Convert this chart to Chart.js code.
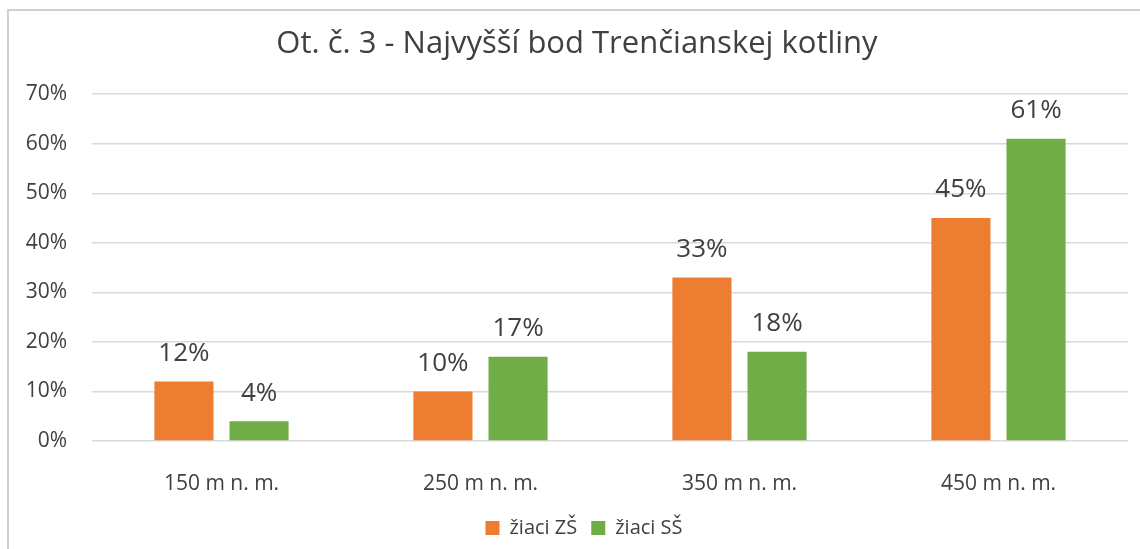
<!DOCTYPE html>
<html>
<head>
<meta charset="utf-8">
<script src="https://cdn.jsdelivr.net/npm/chart.js@4/dist/chart.umd.min.js"></script>
<style>
    html, body { margin: 0; padding: 0; background: #fff; overflow: hidden; }
    #frame {
        position: absolute; left: 7px; top: 9px; width: 1200px; height: 600px;
        border: 2px solid #d0d0d0;
    }
    #wrap { position: absolute; left: 0; top: 0; width: 1140px; height: 549px; }
</style>
</head>
<body>
<div id="frame"></div>
<div id="wrap"><canvas id="chart"></canvas></div>
<script>
    // Ot. č. 3 - answers per height option
    const categories = ['150 m n. m.', '250 m n. m.', '350 m n. m.', '450 m n. m.'];
    const zsValues = [12, 10, 33, 45];
    const ssValues = [4, 17, 18, 61];
    const seriesNames = ['žiaci ZŠ', 'žiaci SŠ'];
    const yTicks = [0, 10, 20, 30, 40, 50, 60, 70];

    const FONT = '"Open Sans", sans-serif';
    const TEXT = '#404040';

    // draw the value above every bar
    const valueLabels = {
        id: 'valueLabels',
        afterDatasetsDraw(chart) {
            const ctx = chart.ctx;
            ctx.save();
            ctx.font = '26px ' + FONT;
            ctx.fillStyle = TEXT;
            ctx.textAlign = 'center';
            ctx.textBaseline = 'middle';
            chart.data.datasets.forEach((ds, i) => {
                chart.getDatasetMeta(i).data.forEach((bar, j) => {
                    ctx.fillText(ds.data[j] + '%', bar.x, bar.y - 28);
                });
            });
            ctx.restore();
        }
    };

    // title and legend sit a bit right of the canvas centre in the original
    const blockShift = {
        id: 'blockShift',
        afterLayout(chart) {
            chart.titleBlock.left += 13;
            chart.titleBlock.right += 13;
            chart.legend.left += 20;
            chart.legend.right += 20;
        }
    };

    new Chart(document.getElementById('chart'), {
        type: 'bar',
        data: {
            labels: categories,
            datasets: [{
                label: seriesNames[0],
                data: zsValues,
                backgroundColor: '#ED7D31',
                categoryPercentage: 0.58,
                barPercentage: 0.787
            }, {
                label: seriesNames[1],
                data: ssValues,
                backgroundColor: '#70AD47',
                categoryPercentage: 0.58,
                barPercentage: 0.787
            }]
        },
        options: {
            responsive: true,
            maintainAspectRatio: false,
            animation: false,
            layout: { padding: { left: 0, right: 12, top: 0, bottom: 1 } },
            plugins: {
                title: {
                    display: true,
                    text: 'Ot. č. 3 - Najvyšší bod Trenčianskej kotliny',
                    color: TEXT,
                    font: { family: FONT, size: 31, weight: 'normal' },
                    padding: { top: 26, bottom: 31 }
                },
                legend: {
                    position: 'bottom',
                    labels: {
                        color: TEXT,
                        font: { family: FONT, size: 20 },
                        boxWidth: 14,
                        boxHeight: 14,
                        padding: 14
                    }
                },
                tooltip: { enabled: false }
            },
            scales: {
                x: {
                    afterFit: (scale) => { scale.height = 63; },
                    grid: { display: false },
                    border: { display: false },
                    ticks: { color: TEXT, font: { family: FONT, size: 21 }, padding: 22 }
                },
                y: {
                    min: 0,
                    max: 70,
                    afterFit: (scale) => { scale.width = 92; },
                    afterBuildTicks: (scale) => { scale.ticks = yTicks.map(v => ({ value: v })); },
                    grid: { color: '#d9d9d9', lineWidth: 1.5, drawTicks: false },
                    border: { display: false },
                    ticks: {
                        color: TEXT,
                        font: { family: FONT, size: 21 },
                        padding: 25,
                        callback: (v) => v + '%'
                    }
                }
            }
        },
        plugins: [valueLabels, blockShift]
    });
</script>
</body>
</html>
